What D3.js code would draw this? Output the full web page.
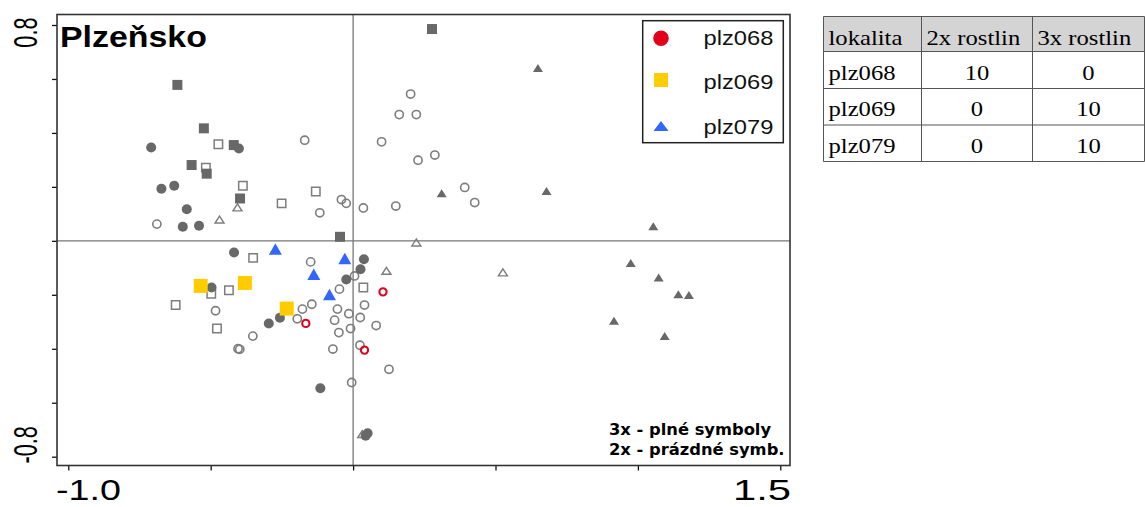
<!DOCTYPE html>
<html>
<head>
<meta charset="utf-8">
<script src="https://cdn.jsdelivr.net/npm/d3@7"></script>
<style>
body { margin: 0; background: #fff; }
</style>
</head>
<body>
<svg class="chart" width="1145" height="507" font-family="Liberation Sans, Arial, sans-serif"></svg>
<script>
// ordination scores, grey = other localities (filled = 3x, open = 2x)
var filledCircles = [
  [-0.709, 0.346], [-0.401, 0.342], [-0.673, 0.193], [-0.628, 0.204],
  [-0.584, 0.117], [-0.598, 0.052], [-0.541, 0.056], [-0.418, -0.043],
  [-0.497, -0.173], [0.038, -0.068], [0.026, -0.105], [-0.024, -0.143],
  [-0.257, -0.285], [-0.296, -0.306], [-0.115, -0.546], [0.051, -0.713],
  [0.044, -0.722], [0.277, 0.785]
];
var filledSquares = [
  [-0.617, 0.578], [-0.524, 0.417], [-0.419, 0.355], [-0.567, 0.281],
  [-0.514, 0.249], [-0.397, 0.157], [-0.046, 0.015], [0.277, 0.785]
];
var filledTriangles = [
  [0.649, 0.641], [0.311, 0.176], [0.679, 0.185], [1.054, 0.054],
  [0.975, -0.082], [1.073, -0.136], [1.142, -0.198], [1.179, -0.201],
  [0.916, -0.296], [1.094, -0.353]
];
var openCircles = [
  [-0.689, 0.062], [-0.170, 0.373], [0.100, 0.367], [0.202, 0.544],
  [0.162, 0.468], [0.222, 0.468], [0.287, 0.318], [0.228, 0.299],
  [0.392, 0.198], [0.427, 0.142], [-0.041, 0.153], [-0.024, 0.139],
  [-0.117, 0.104], [0.036, 0.122], [0.150, 0.129], [-0.149, -0.078],
  [0.005, -0.130], [-0.048, -0.179], [-0.145, -0.235], [-0.178, -0.253],
  [-0.196, -0.289], [-0.483, -0.259], [-0.352, -0.353], [-0.404, -0.400],
  [-0.398, -0.402], [-0.055, -0.253], [0.040, -0.238], [-0.015, -0.270],
  [0.025, -0.284], [-0.065, -0.294], [-0.009, -0.325], [-0.050, -0.340],
  [0.081, -0.314], [-0.071, -0.401], [0.024, -0.387], [0.126, -0.476],
  [-0.005, -0.525]
];
var openSquares = [
  [-0.473, 0.358], [-0.517, 0.271], [-0.387, 0.204], [-0.251, 0.139],
  [-0.131, 0.183], [-0.351, -0.063], [-0.498, -0.196], [-0.436, -0.183],
  [-0.623, -0.238], [-0.478, -0.325], [0.036, -0.173]
];
var openTriangles = [
  [-0.406, 0.124], [-0.469, 0.079], [0.222, -0.006], [0.117, -0.111],
  [0.526, -0.117], [0.032, -0.716]
];

// highlighted localities
var plz068 = [[0.105, -0.189], [-0.166, -0.306], [0.040, -0.405]];
var plz069 = [[-0.535, -0.167], [-0.380, -0.156], [-0.233, -0.251]];
var plz079 = [[-0.273, -0.030], [-0.029, -0.065], [-0.138, -0.124], [-0.083, -0.199]];

var localities = ["plz068", "plz069", "plz079"];
var tableHead = ["lokalita", "2x rostlin", "3x rostlin"];
var count2x = [10, 0, 0];
var count3x = [0, 10, 10];

var xTicks = [-1, -0.5, 0, 0.5, 1, 1.5];
var yTicks = [-0.8, -0.6, -0.4, -0.2, 0, 0.2, 0.4, 0.6, 0.8];
var xLabels = ["-1.0", "1.5"];
var yLabels = ["-0.8", "0.8"];

var frame = { left: 57, right: 790, top: 14.5, bottom: 465.5 };

var x = d3.scaleLinear().domain([-1, 1.5]).range([68.3, 780.3]);
var y = d3.scaleLinear().domain([-0.8, 0.8]).range([456.7, 25]);

var svg = d3.select(".chart");

function tri(w, h) {
  return "M0," + (-h / 2) + "L" + (w / 2) + "," + (h / 2) + "L" + (-w / 2) + "," + (h / 2) + "Z";
}
function sq(s) {
  return "M" + (-s / 2) + "," + (-s / 2) + "h" + s + "v" + s + "h" + (-s) + "Z";
}
function circ(r) {
  return "M" + r + ",0A" + r + "," + r + " 0 1,1 " + (-r) + ",0A" + r + "," + r + " 0 1,1 " + r + ",0Z";
}

function stretched(parent, str, tx, ty, sx, anchor) {
  return parent.append("text")
    .attr("transform", "translate(" + tx + "," + ty + ") scale(" + sx + ",1)")
    .attr("text-anchor", anchor || "start")
    .text(str);
}

// zero lines
svg.append("line")
  .attr("x1", x(0)).attr("x2", x(0))
  .attr("y1", frame.top).attr("y2", frame.bottom)
  .attr("stroke", "#777").attr("stroke-width", 1.3);
svg.append("line")
  .attr("x1", frame.left).attr("x2", frame.right)
  .attr("y1", y(0)).attr("y2", y(0))
  .attr("stroke", "#777").attr("stroke-width", 1.3);

function drawGroup(data, shape, fill, stroke, sw) {
  svg.append("g").selectAll("path")
    .data(data)
    .join("path")
    .attr("transform", function (d) { return "translate(" + x(d[0]) + "," + y(d[1]) + ")"; })
    .attr("d", shape)
    .attr("fill", fill)
    .attr("stroke", stroke)
    .attr("stroke-width", sw);
}

var grey = "#686868", greyLine = "#7d7d7d";
drawGroup(openSquares, sq(8.4), "none", greyLine, 1.5);
drawGroup(openTriangles, tri(9, 7), "none", greyLine, 1.4);
drawGroup(openCircles, circ(4.1), "none", greyLine, 1.6);
drawGroup(filledCircles, circ(5), grey, "none", 0);
drawGroup(filledSquares, sq(10), grey, "none", 0);
drawGroup(filledTriangles, tri(10, 8), grey, "none", 0);
drawGroup(plz068, circ(3.6), "none", "#e2001a", 2.1);
drawGroup(plz069, sq(14), "#ffcc00", "none", 0);
drawGroup(plz079, tri(13, 11.5), "#3366ff", "none", 0);

// axes
svg.append("g")
  .attr("transform", "translate(" + frame.left + ",0)")
  .call(d3.axisLeft(y).tickValues(yTicks).tickSize(5).tickFormat(""))
  .call(function (g) { g.select(".domain").remove(); g.selectAll("line").attr("stroke", "#111").attr("stroke-width", 1.3); });
svg.append("g")
  .attr("transform", "translate(0," + frame.bottom + ")")
  .call(d3.axisBottom(x).tickValues(xTicks).tickSize(5).tickFormat(""))
  .call(function (g) { g.select(".domain").remove(); g.selectAll("line").attr("stroke", "#111").attr("stroke-width", 1.3); });

svg.append("rect")
  .attr("x", frame.left).attr("y", frame.top)
  .attr("width", frame.right - frame.left).attr("height", frame.bottom - frame.top)
  .attr("fill", "none").attr("stroke", "#333").attr("stroke-width", 1.6);

// tick labels (only the ends, as in CanoDraw)
stretched(svg, xLabels[0], frame.left - 1, 500, 1.3, "start").attr("font-size", 29);
stretched(svg, xLabels[1], frame.right + 1, 500, 1.44, "end").attr("font-size", 29);
svg.append("text")
  .attr("transform", "translate(36.7," + (frame.bottom - 2) + ") rotate(-90) scale(1,1.5)")
  .attr("text-anchor", "start").attr("font-size", 21.7).text(yLabels[0]);
svg.append("text")
  .attr("transform", "translate(36.7," + (frame.top + 3) + ") rotate(-90) scale(1,1.5)")
  .attr("text-anchor", "end").attr("font-size", 21.7).text(yLabels[1]);

// title
stretched(svg, "Plzeňsko", 60, 46.7, 1.13).attr("font-size", 30).attr("font-weight", "bold");

// note
stretched(svg, "3x - plné symboly", 609, 435, 1.02)
  .attr("font-family", "DejaVu Sans").attr("font-weight", "bold").attr("font-size", 16);
stretched(svg, "2x - prázdné symb.", 609, 455, 1.02)
  .attr("font-family", "DejaVu Sans").attr("font-weight", "bold").attr("font-size", 16);

// legend
var legend = svg.append("g");
legend.append("rect")
  .attr("x", 642.7).attr("y", 20.7).attr("width", 140.6).attr("height", 122)
  .attr("fill", "#fff").attr("stroke", "#222").attr("stroke-width", 1.5);
var legRowY = [38.3, 80, 126];
var legBase = [44.7, 88.7, 133.6];
var legShape = [circ(7.8), sq(14), tri(15, 10)];
var legColor = ["#e2001a", "#ffcc00", "#3366ff"];
localities.forEach(function (name, i) {
  legend.append("path")
    .attr("transform", "translate(661," + legRowY[i] + ")")
    .attr("d", legShape[i])
    .attr("fill", legColor[i]);
  stretched(legend, name, 703.5, legBase[i], 1.13).attr("font-size", 21).attr("fill", "#111");
});

// table
var colX = [823.5, 921.5, 1032.5, 1144.5];
var rowY = [16.5, 51.5, 88.5, 125, 161.5];
var table = svg.append("g").attr("font-family", "Liberation Serif, serif").attr("font-size", 22);
table.append("rect")
  .attr("x", colX[0]).attr("y", rowY[0])
  .attr("width", colX[3] - colX[0]).attr("height", rowY[1] - rowY[0])
  .attr("fill", "#d4d4d4");
rowY.forEach(function (ry) {
  table.append("line").attr("x1", colX[0]).attr("x2", colX[3]).attr("y1", ry).attr("y2", ry)
    .attr("stroke", "#555").attr("stroke-width", 1);
});
colX.forEach(function (cx) {
  table.append("line").attr("x1", cx).attr("x2", cx).attr("y1", rowY[0]).attr("y2", rowY[4])
    .attr("stroke", "#555").attr("stroke-width", 1);
});
var tBase = [45, 80, 116.3, 153];
tableHead.forEach(function (h, j) {
  stretched(table, h, colX[j] + 5, tBase[0], 1.12);
});
localities.forEach(function (name, i) {
  stretched(table, name, colX[0] + 5, tBase[i + 1], 1.12);
  stretched(table, count2x[i], (colX[1] + colX[2]) / 2, tBase[i + 1], 1.12, "middle");
  stretched(table, count3x[i], (colX[2] + colX[3]) / 2, tBase[i + 1], 1.12, "middle");
});
</script>
</body>
</html>
